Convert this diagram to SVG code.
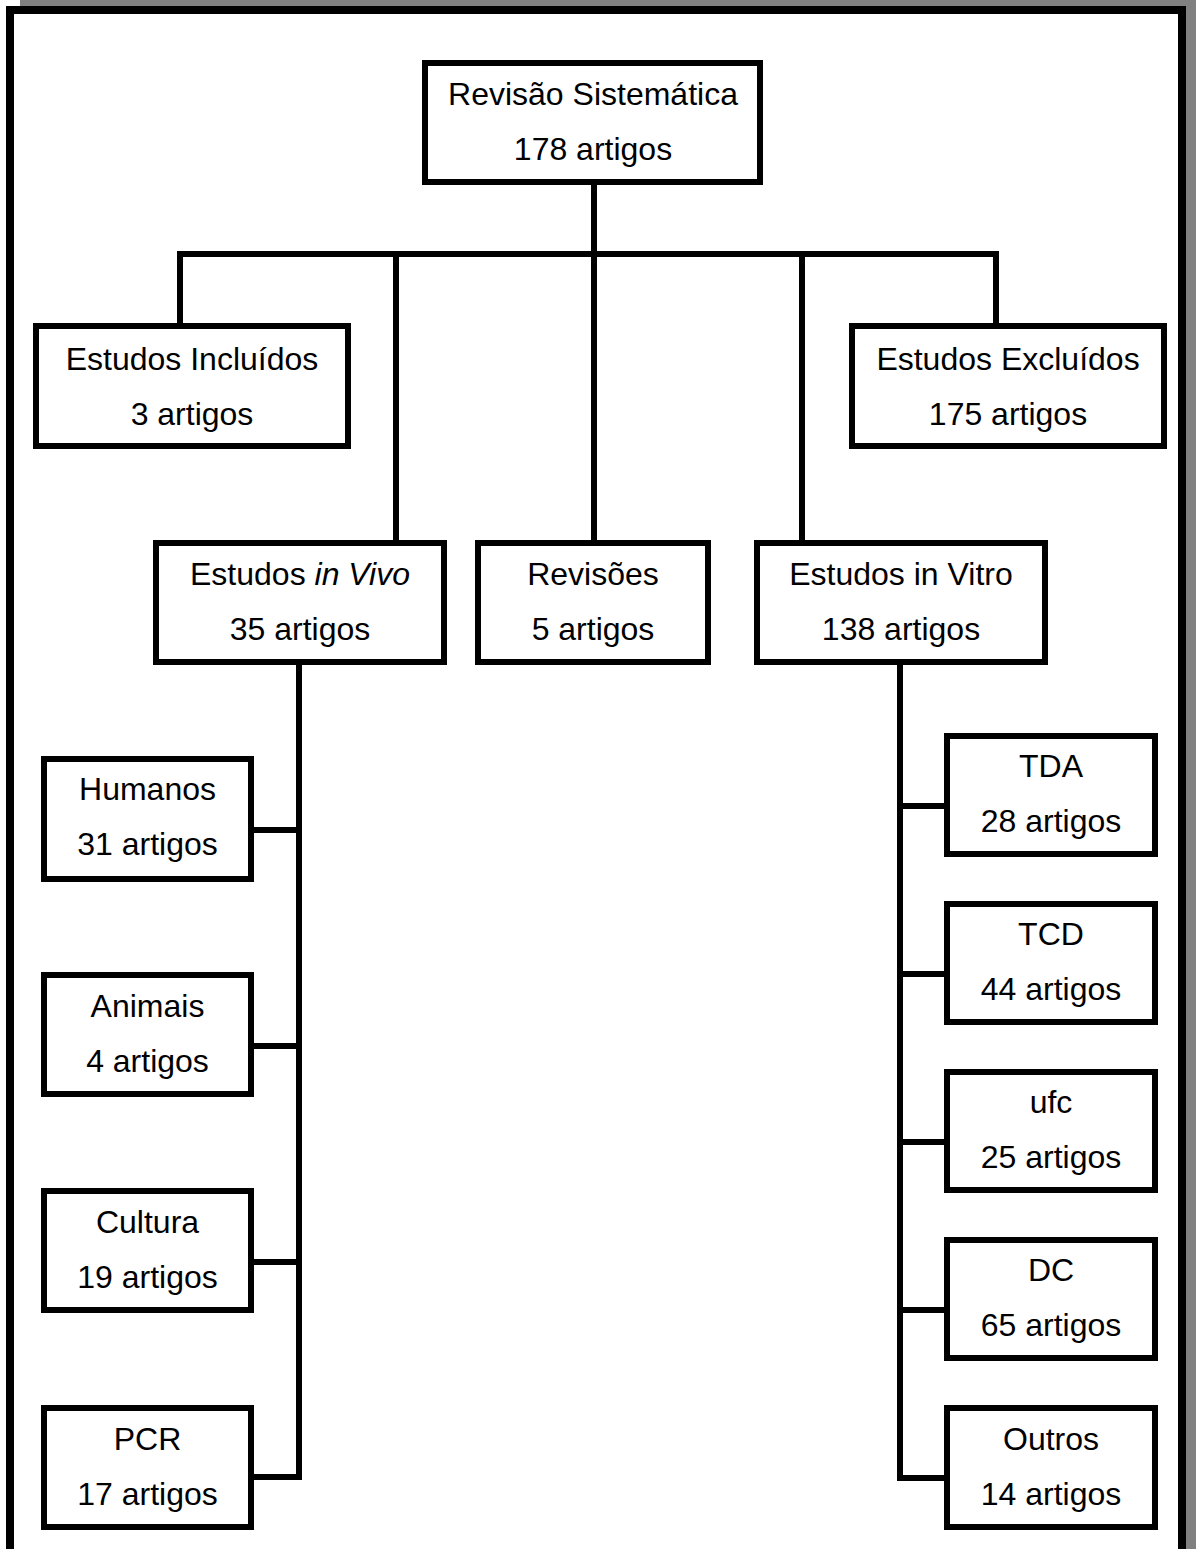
<svg xmlns="http://www.w3.org/2000/svg" width="1196" height="1549" viewBox="0 0 1196 1549">
<style>
.box rect{fill:#fff;stroke:#000;stroke-width:6}
text{font-family:"Liberation Sans",Arial,sans-serif;font-size:32px;fill:#000;text-anchor:middle}
.conn line{stroke:#000;stroke-width:6;stroke-linecap:square}
</style>
<rect x="20" y="0" width="1176" height="1549" fill="#808080"/>
<rect x="10" y="10" width="1172" height="1600" fill="#fff" stroke="#000" stroke-width="8"/>
<g class="conn" id="connectors">
<line x1="594" y1="188" x2="594" y2="254"/>
<line x1="180" y1="254" x2="996" y2="254"/>
<line x1="180" y1="254" x2="180" y2="323"/>
<line x1="396" y1="254" x2="396" y2="540"/>
<line x1="594" y1="254" x2="594" y2="540"/>
<line x1="802" y1="254" x2="802" y2="540"/>
<line x1="996" y1="254" x2="996" y2="323"/>
<line x1="299" y1="668" x2="299" y2="1477"/>
<line x1="257" y1="830" x2="299" y2="830"/>
<line x1="257" y1="1046" x2="299" y2="1046"/>
<line x1="257" y1="1262" x2="299" y2="1262"/>
<line x1="257" y1="1477" x2="299" y2="1477"/>
<line x1="900" y1="668" x2="900" y2="1478"/>
<line x1="900" y1="806" x2="941" y2="806"/>
<line x1="900" y1="974" x2="941" y2="974"/>
<line x1="900" y1="1142" x2="941" y2="1142"/>
<line x1="900" y1="1310" x2="941" y2="1310"/>
<line x1="900" y1="1478" x2="941" y2="1478"/>
</g>
<g class="box" id="revisao-sistematica"><rect x="425" y="63" width="335" height="119"/><text x="593" y="105">Revisão Sistemática</text><text x="593" y="160">178 artigos</text></g>
<g class="box" id="estudos-incluidos"><rect x="36" y="326" width="312" height="120"/><text x="192" y="370">Estudos Incluídos</text><text x="192" y="425">3 artigos</text></g>
<g class="box" id="estudos-excluidos"><rect x="852" y="326" width="312" height="120"/><text x="1008" y="370">Estudos Excluídos</text><text x="1008" y="425">175 artigos</text></g>
<g class="box" id="estudos-in-vivo"><rect x="156" y="543" width="288" height="119"/><text x="300" y="585">Estudos <tspan font-style="italic">in Vivo</tspan></text><text x="300" y="640">35 artigos</text></g>
<g class="box" id="revisoes"><rect x="478" y="543" width="230" height="119"/><text x="593" y="585">Revisões</text><text x="593" y="640">5 artigos</text></g>
<g class="box" id="estudos-in-vitro"><rect x="757" y="543" width="288" height="119"/><text x="901" y="585">Estudos in Vitro</text><text x="901" y="640">138 artigos</text></g>
<g class="box" id="humanos"><rect x="44" y="759" width="207" height="120"/><text x="147.5" y="800">Humanos</text><text x="147.5" y="855">31 artigos</text></g>
<g class="box" id="animais"><rect x="44" y="975" width="207" height="119"/><text x="147.5" y="1017">Animais</text><text x="147.5" y="1072">4 artigos</text></g>
<g class="box" id="cultura"><rect x="44" y="1191" width="207" height="119"/><text x="147.5" y="1233">Cultura</text><text x="147.5" y="1288">19 artigos</text></g>
<g class="box" id="pcr"><rect x="44" y="1408" width="207" height="119"/><text x="147.5" y="1450">PCR</text><text x="147.5" y="1505">17 artigos</text></g>
<g class="box" id="tda"><rect x="947" y="736" width="208" height="118"/><text x="1051" y="777">TDA</text><text x="1051" y="832">28 artigos</text></g>
<g class="box" id="tcd"><rect x="947" y="904" width="208" height="118"/><text x="1051" y="945">TCD</text><text x="1051" y="1000">44 artigos</text></g>
<g class="box" id="ufc"><rect x="947" y="1072" width="208" height="118"/><text x="1051" y="1113">ufc</text><text x="1051" y="1168">25 artigos</text></g>
<g class="box" id="dc"><rect x="947" y="1240" width="208" height="118"/><text x="1051" y="1281">DC</text><text x="1051" y="1336">65 artigos</text></g>
<g class="box" id="outros"><rect x="947" y="1408" width="208" height="119"/><text x="1051" y="1450">Outros</text><text x="1051" y="1505">14 artigos</text></g>
</svg>
